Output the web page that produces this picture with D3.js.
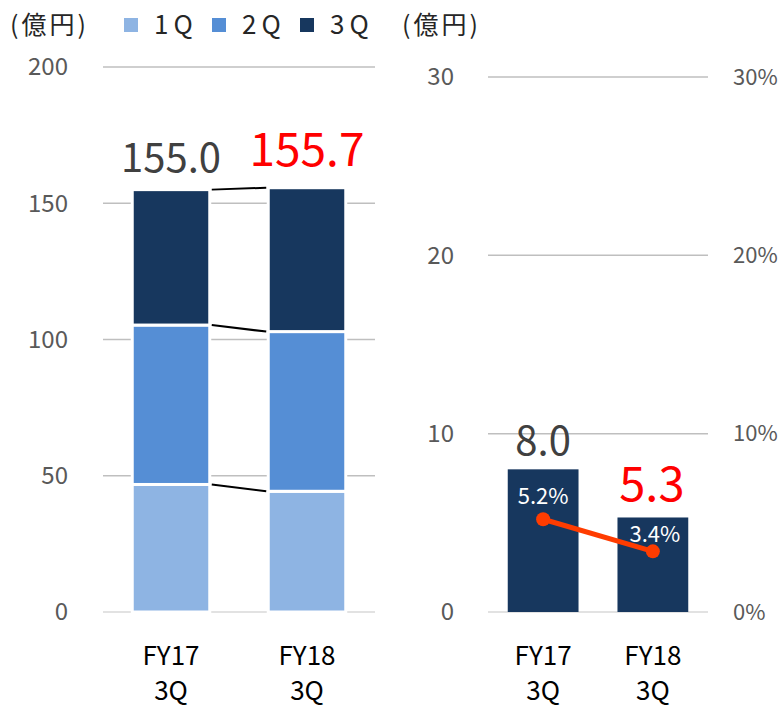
<!DOCTYPE html>
<html>
<head>
<meta charset="utf-8">
<script src="https://cdn.jsdelivr.net/npm/d3@7"></script>
<style>
  body { margin: 0; background: #fff; }
  text { font-family: "Noto Sans CJK JP", "Open Sans", sans-serif; }
</style>
</head>
<body>
<svg id="chart" width="784" height="707"></svg>
<script>
const categories = ['FY17 3Q', 'FY18 3Q'];
const quarters = ['1Q', '2Q', '3Q'];
const q1 = [46.8, 44.3];
const q2 = [58.5, 58.6];
const q3 = [49.7, 52.8];
const totals = ['155.0', '155.7'];
const profit = [8.0, 5.3];
const profitLabels = ['8.0', '5.3'];
const margins = [5.2, 3.4];
const leftTicks = [0, 50, 100, 150, 200];
const rightTicks = [0, 10, 20, 30];

const colors = ['#8eb4e3', '#558ed5', '#17375e'];
const svg = d3.select('#chart');

// ---------- left chart: sales stacked ----------
const x1 = d3.scaleBand()
  .domain(categories)
  .range([103, 375])
  .paddingInner(0.43)
  .paddingOuter(0.215);

const y1 = d3.scaleLinear()
  .domain([0, 200])
  .range([612, 67]);

svg.append('g')
  .selectAll('line')
  .data(leftTicks)
  .enter()
  .append('line')
  .attr('x1', 103)
  .attr('x2', 375)
  .attr('y1', (d) => y1(d))
  .attr('y2', (d) => y1(d))
  .attr('stroke', (d) => d === 0 ? '#d9d9d9' : '#bfbfbf')
  .attr('stroke-width', 1.5);

svg.append('g')
  .selectAll('text')
  .data(leftTicks)
  .enter()
  .append('text')
  .attr('x', 68)
  .attr('y', (d) => y1(d))
  .attr('dy', '0.35em')
  .attr('text-anchor', 'end')
  .attr('font-size', 24)
  .attr('fill', '#595959')
  .text((d) => d);

const stackData = categories.map((c, i) => ({ cat: c, '1Q': q1[i], '2Q': q2[i], '3Q': q3[i] }));
const series = d3.stack().keys(quarters)(stackData);

svg.append('g')
  .selectAll('g')
  .data(series)
  .enter()
  .append('g')
  .attr('fill', (d, i) => colors[i])
  .selectAll('rect')
  .data((d) => d)
  .enter()
  .append('rect')
  .attr('x', (d) => x1(d.data.cat))
  .attr('width', x1.bandwidth())
  .attr('y', (d) => y1(d[1]))
  .attr('height', (d) => y1(d[0]) - y1(d[1]))
  .attr('stroke', '#fff')
  .attr('stroke-width', 3);

// connector lines between segment tops
series.forEach((s) => {
  svg.append('line')
    .attr('x1', x1(categories[0]) + x1.bandwidth() + 2)
    .attr('x2', x1(categories[1]) - 2)
    .attr('y1', y1(s[0][1]))
    .attr('y2', y1(s[1][1]))
    .attr('stroke', '#000')
    .attr('stroke-width', 2);
});

svg.append('text')
  .attr('x', x1(categories[0]) + x1.bandwidth() / 2)
  .attr('y', y1(q1[0] + q2[0] + q3[0]) - 18)
  .attr('text-anchor', 'middle')
  .attr('font-size', 40)
  .attr('fill', '#404040')
  .text(totals[0]);

svg.append('text')
  .attr('x', x1(categories[1]) + x1.bandwidth() / 2)
  .attr('y', y1(q1[1] + q2[1] + q3[1]) - 22)
  .attr('text-anchor', 'middle')
  .attr('font-size', 46)
  .attr('fill', '#ff0000')
  .text(totals[1]);

// unit + legend
svg.append('text')
  .attr('x', 10)
  .attr('y', 34)
  .attr('font-size', 25)
  .attr('letter-spacing', 3)
  .attr('fill', '#262626')
  .text('(億円)');

const legendX = [124, 212, 300];
quarters.forEach((q, i) => {
  svg.append('rect')
    .attr('x', legendX[i])
    .attr('y', 18)
    .attr('width', 14)
    .attr('height', 14)
    .attr('fill', colors[i]);
  svg.append('text')
    .attr('x', legendX[i] + 30)
    .attr('y', 34)
    .attr('font-size', 26)
    .attr('letter-spacing', 5)
    .attr('fill', '#262626')
    .text(q);
});

// x labels
function xLabels(scale) {
  categories.forEach((c) => {
    const parts = c.split(' ');
    const cx = scale(c) + scale.bandwidth() / 2;
    const t = svg.append('text')
      .attr('text-anchor', 'middle')
      .attr('font-size', 26)
      .attr('fill', '#000');
    t.append('tspan').attr('x', cx).attr('y', 665).text(parts[0]);
    t.append('tspan').attr('x', cx).attr('y', 700).text(parts[1]);
  });
}
xLabels(x1);

// ---------- right chart: profit + margin ----------
const x2 = d3.scaleBand()
  .domain(categories)
  .range([488, 708])
  .paddingInner(0.355)
  .paddingOuter(0.18);

const y2 = d3.scaleLinear()
  .domain([0, 30])
  .range([612, 77]);

const y3 = d3.scaleLinear()
  .domain([0, 30])
  .range([612, 77]);

svg.append('g')
  .selectAll('line')
  .data(rightTicks)
  .enter()
  .append('line')
  .attr('x1', 488)
  .attr('x2', 708)
  .attr('y1', (d) => y2(d))
  .attr('y2', (d) => y2(d))
  .attr('stroke', (d) => d === 0 ? '#d9d9d9' : '#bfbfbf')
  .attr('stroke-width', 1.5);

svg.append('g')
  .selectAll('text')
  .data(rightTicks)
  .enter()
  .append('text')
  .attr('x', 454)
  .attr('y', (d) => y2(d))
  .attr('dy', '0.35em')
  .attr('text-anchor', 'end')
  .attr('font-size', 24)
  .attr('fill', '#595959')
  .text((d) => d);

svg.append('g')
  .selectAll('text')
  .data(rightTicks)
  .enter()
  .append('text')
  .attr('x', 733)
  .attr('y', (d) => y3(d))
  .attr('dy', '0.35em')
  .attr('font-size', 22)
  .attr('fill', '#595959')
  .text((d) => d + '%');

svg.append('text')
  .attr('x', 402)
  .attr('y', 34)
  .attr('font-size', 25)
  .attr('letter-spacing', 3)
  .attr('fill', '#262626')
  .text('(億円)');

svg.append('g')
  .selectAll('rect')
  .data(categories)
  .enter()
  .append('rect')
  .attr('x', (d) => x2(d))
  .attr('width', x2.bandwidth())
  .attr('y', (d, i) => y2(profit[i]))
  .attr('height', (d, i) => y2(0) - y2(profit[i]))
  .attr('fill', '#17375e');

svg.append('text')
  .attr('x', x2(categories[0]) + x2.bandwidth() / 2)
  .attr('y', y2(profit[0]) - 14)
  .attr('text-anchor', 'middle')
  .attr('font-size', 40)
  .attr('fill', '#404040')
  .text(profitLabels[0]);

svg.append('text')
  .attr('x', x2(categories[1]) + x2.bandwidth() / 2 - 1)
  .attr('y', y2(profit[1]) - 16)
  .attr('text-anchor', 'middle')
  .attr('font-size', 47)
  .attr('fill', '#ff0000')
  .text(profitLabels[1]);

const line = d3.line()
  .x((d, i) => x2(categories[i]) + x2.bandwidth() / 2)
  .y((d) => y3(d));

svg.append('path')
  .attr('d', line(margins))
  .attr('fill', 'none')
  .attr('stroke', '#ff3c00')
  .attr('stroke-width', 5);

svg.append('g')
  .selectAll('circle')
  .data(margins)
  .enter()
  .append('circle')
  .attr('cx', (d, i) => x2(categories[i]) + x2.bandwidth() / 2)
  .attr('cy', (d) => y3(d))
  .attr('r', 7)
  .attr('fill', '#ff3c00');

svg.append('g')
  .selectAll('text')
  .data(margins)
  .enter()
  .append('text')
  .attr('x', (d, i) => x2(categories[i]) + x2.bandwidth() / 2 + (i === 1 ? 2 : 0))
  .attr('y', (d, i) => y3(d) - (i === 1 ? 9 : 15))
  .attr('text-anchor', 'middle')
  .attr('font-size', 22)
  .attr('fill', '#fff')
  .text((d) => d.toFixed(1) + '%');

xLabels(x2);
</script>
</body>
</html>
